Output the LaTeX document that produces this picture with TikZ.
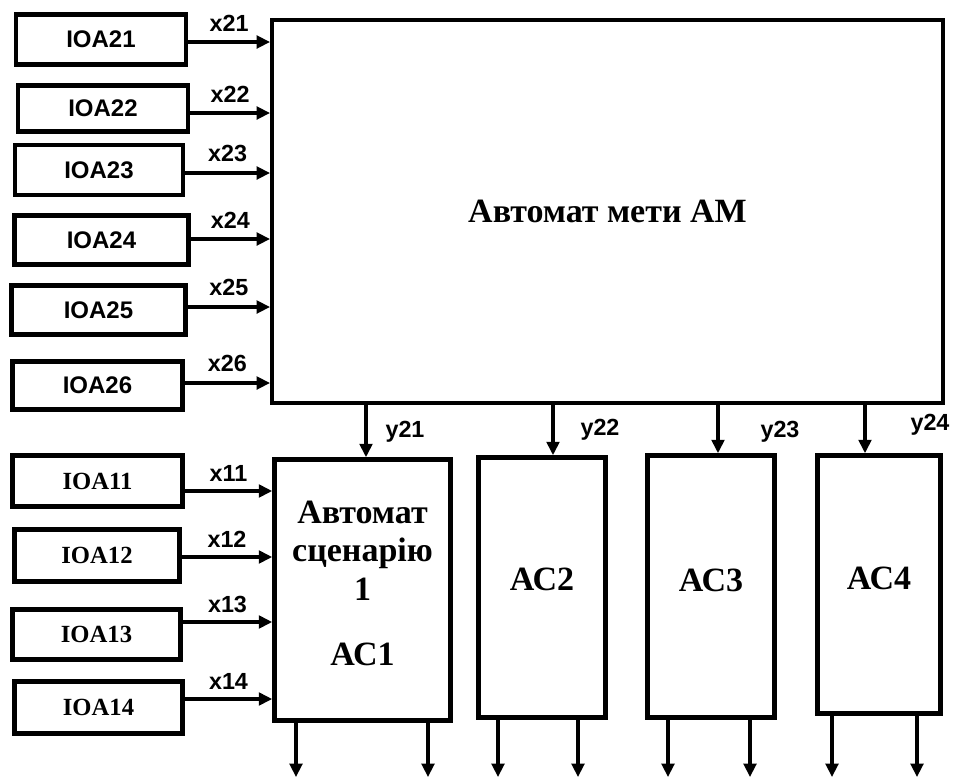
\documentclass[tikz,border=0pt]{standalone}
\usepackage{fontspec}
\setmainfont{Liberation Serif}
\setsansfont{Liberation Sans}
\usetikzlibrary{arrows.meta}

\tikzset{
  blk/.style={draw, line width=3.5pt, inner sep=0pt, align=center},
  sz/.style 2 args={minimum width=#1*0.75pt, minimum height=#2*0.75pt},
  ioa/.style={blk, font=\sffamily\bfseries\fontsize{18}{20}\selectfont},
  ioaser/.style={blk, font=\rmfamily\bfseries\fontsize{18.5}{20}\selectfont},
  big/.style={font=\rmfamily\bfseries\fontsize{25.5}{30}\selectfont},
  sig/.style={line width=2.3pt, -{Triangle[length=10pt,width=9.5pt]}},
  lbl/.style={font=\sffamily\bfseries\fontsize{17.5}{19}\selectfont, inner sep=1pt}
}

\begin{document}
\begin{tikzpicture}[x=0.75pt,y=-0.75pt]
    \useasboundingbox (0,0) rectangle (953,779);

    % Goal automaton
    \node[blk, big, line width=3pt, sz={671}{383}] (am) at (607.5,211.5) {Автомат мети АМ};

    % Scenario automata
    \node[blk, big, sz={176}{261}, text depth=10pt] (ac1) at (362.5,590) {Автомат\\[-1pt]сценарію\\[-1pt]1\\[19pt]АС1};
    \node[blk, big, sz={127}{260}, text depth=12pt] (ac2) at (542,587.5) {АС2};
    \node[blk, big, sz={127}{262}, text depth=9pt] (ac3) at (711,586.5) {АС3};
    \node[blk, big, sz={123}{258}, text depth=9pt] (ac4) at (879,584.5) {АС4};

    % Inputs of AM
    \foreach \n/\cx/\cy/\w/\h in {21/101/39.5/170/50, 22/103/108.5/170/46, 23/99/170/168/50,
                                  24/101.5/240/174/49, 25/98.5/310/174/49, 26/97.5/385.5/170/48} {
        \node[ioa, sz={\w}{\h}] (ioa\n) at (\cx,\cy) {IOA\n};
    }
    \foreach \n/\yy in {21/42, 22/113, 23/173, 24/239, 25/307, 26/383} {
        \draw[sig] (ioa\n.east |- 0,\yy) -- node[lbl, above=6pt] {x\n} (am.west |- 0,\yy);
    }

    % Inputs of AC1
    \foreach \n/\cx/\cy/\w/\h in {11/97.5/481/170/51, 12/97/555.5/165/52,
                                  13/96.5/634.5/168/50, 14/98.5/707.5/168/52} {
        \node[ioaser, sz={\w}{\h}] (ioa\n) at (\cx,\cy) {IOA\n};
    }
    \foreach \n/\yy in {11/491, 12/557, 13/622, 14/699} {
        \draw[sig] (ioa\n.east |- 0,\yy) -- node[lbl, above=5pt] {x\n} (ac1.west |- 0,\yy);
    }

    % Outputs of AM
    \foreach \k/\xx/\lx/\ly in {1/366/405/432, 2/553/600/430, 3/718/780/432, 4/865/930/425} {
        \draw[sig] (am.south -| \xx,0) -- (ac\k.north -| \xx,0);
        \node[lbl] (y2\k) at (\lx,\ly) {y2\k};
    }

    % Outputs of AC
    \foreach \k/\xa/\xb in {1/296/428, 2/498/578, 3/668/750, 4/832/917} {
        \coordinate (o\k-1) at (\xa,777);
        \coordinate (o\k-2) at (\xb,777);
        \draw[sig] (ac\k.south -| o\k-1) -- (o\k-1);
        \draw[sig] (ac\k.south -| o\k-2) -- (o\k-2);
    }
\end{tikzpicture}
\end{document}
